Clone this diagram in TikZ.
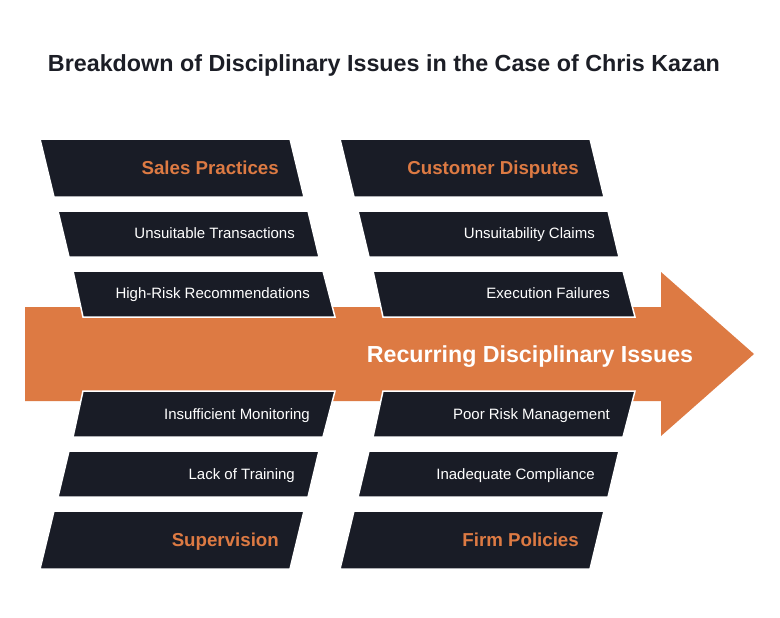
\documentclass[tikz,border=0pt]{standalone}
\usepackage{fontspec}
\setmainfont{Liberation Sans}
\definecolor{navy}{RGB}{25,28,38}
\definecolor{orng}{RGB}{221,122,67}
\definecolor{ttl}{RGB}{28,30,38}
\begin{document}
\begin{tikzpicture}[x=1pt,y=-1pt,
  box/.style={fill=navy,draw=white,line width=1.5pt,line join=miter},
  cat/.style={anchor=base east,text=orng,font=\fontsize{18.7}{22}\selectfont\bfseries,inner sep=0pt},
  item/.style={anchor=base east,text=white,font=\fontsize{15}{17}\selectfont,inner sep=0pt}]
\useasboundingbox (0,0) rectangle (780,618);
\fill[white] (0,0) rectangle (780,618);
\node[anchor=base,inner sep=0pt,font=\fontsize{23.3}{27}\selectfont\bfseries,text=ttl] (title) at (384,71.5) {Breakdown of Disciplinary Issues in the Case of Chris Kazan};
% arrow
\fill[orng] (25,307) -- (661,307) -- (661,272) -- (754,354) -- (661,436) -- (661,401) -- (25,401) -- cycle;
% left top
\path[box] (40,139) -- (290,139) -- (304,197) -- (54,197) -- cycle;
\path[box] (58,211) -- (308,211) -- (319,257) -- (69,257) -- cycle;
\path[box] (73,271) -- (323,271) -- (335,317) -- (83,317) -- cycle;
% right top
\path[box] (340,139) -- (590,139) -- (604,197) -- (354,197) -- cycle;
\path[box] (358,211) -- (608,211) -- (619,257) -- (369,257) -- cycle;
\path[box] (373,271) -- (623,271) -- (635,317) -- (383,317) -- cycle;
% left bottom
\path[box] (83,391) -- (335,391) -- (323,437) -- (73,437) -- cycle;
\path[box] (69,451) -- (319,451) -- (308,497) -- (58,497) -- cycle;
\path[box] (54,511) -- (304,511) -- (290,569) -- (40,569) -- cycle;
% right bottom
\path[box] (383,391) -- (635,391) -- (623,437) -- (373,437) -- cycle;
\path[box] (369,451) -- (619,451) -- (608,497) -- (358,497) -- cycle;
\path[box] (354,511) -- (604,511) -- (590,569) -- (340,569) -- cycle;
% texts
\node[cat] (sales) at (279,174.5) {Sales Practices};
\node[item] (unsuit) at (295,238.5) {Unsuitable Transactions};
\node[item] (highrisk) at (310,298.5) {High-Risk Recommendations};
\node[cat] (cust) at (579,174.5) {Customer Disputes};
\node[item] (claims) at (595,238.5) {Unsuitability Claims};
\node[item] (exec) at (610,298.5) {Execution Failures};
\node[item] (monit) at (310,419) {Insufficient Monitoring};
\node[item] (train) at (295,479) {Lack of Training};
\node[cat] (superv) at (279,546.5) {Supervision};
\node[item] (risk) at (610,419) {Poor Risk Management};
\node[item] (compl) at (595,479) {Inadequate Compliance};
\node[cat] (firm) at (579,546.5) {Firm Policies};
\node[anchor=base,inner sep=0pt,font=\fontsize{23.2}{27}\selectfont\bfseries,text=white] (main) at (530,362) {Recurring Disciplinary Issues};
\end{tikzpicture}
\end{document}
